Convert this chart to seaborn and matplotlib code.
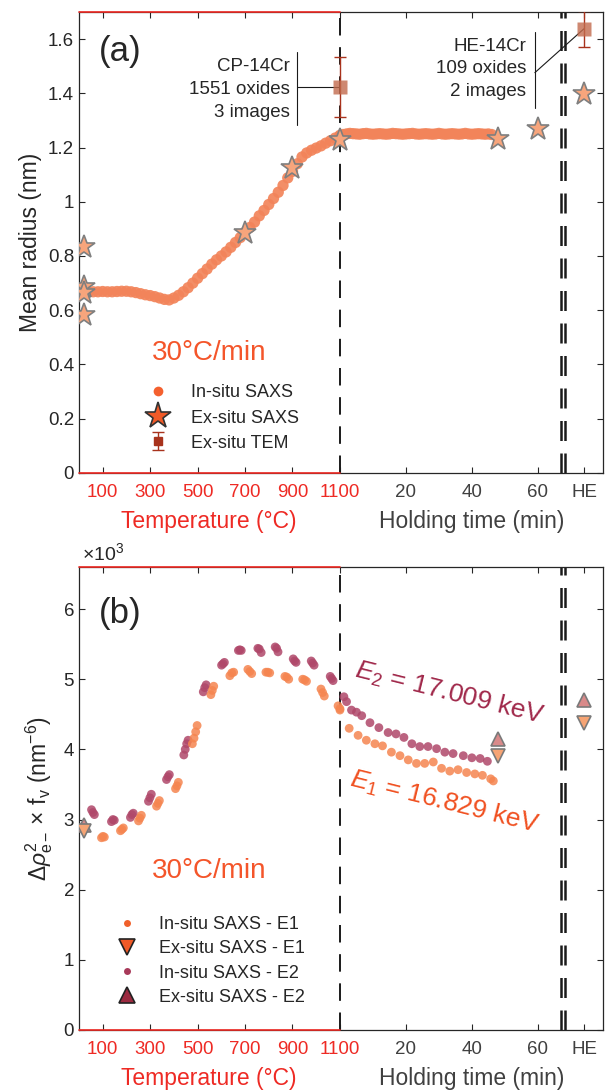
import numpy as np
import pandas as pd
import seaborn as sns
import matplotlib.pyplot as plt
from matplotlib.lines import Line2D
from matplotlib.ticker import FuncFormatter

# ---------------- (a) mean radius ----------------
heat_temp = [20, 40, 60, 80, 100, 120, 140, 160, 180, 200, 220, 240, 260, 280, 300, 320, 340, 360,
             380, 400, 420, 440, 460, 480, 500, 520, 540, 560, 580, 600, 620, 640, 660, 680, 700,
             720, 740, 760, 780, 800, 820, 840, 860, 880, 900, 920, 940, 960, 980, 1000, 1020, 1040,
             1060, 1080, 1100]
heat_radius = [0.665, 0.667, 0.668, 0.668, 0.669, 0.668, 0.668, 0.669, 0.670, 0.670,
               0.668, 0.665, 0.661, 0.657, 0.654, 0.650, 0.645, 0.640, 0.638, 0.645,
               0.655, 0.668, 0.683, 0.700, 0.718, 0.735, 0.752, 0.770, 0.786, 0.800,
               0.815, 0.832, 0.850, 0.868, 0.888, 0.905, 0.925, 0.948, 0.968, 0.990,
               1.012, 1.035, 1.060, 1.088, 1.112, 1.140, 1.165, 1.180, 1.190, 1.198,
               1.206, 1.216, 1.225, 1.235, 1.242]
hold_time = [0, 1, 2, 3, 4, 5, 6, 7, 8, 9, 10, 11, 12, 13, 14, 15, 16, 17, 18, 19, 20, 21, 22, 23,
             24, 25, 26, 27, 28, 29, 30, 31, 32, 33, 34, 35, 36, 37, 38, 39, 40, 41, 42, 43, 44, 45, 46]
hold_radius = [1.245, 1.248, 1.250, 1.252, 1.251, 1.250, 1.249, 1.251, 1.252, 1.250,
               1.249, 1.250, 1.251, 1.250, 1.249, 1.250, 1.252, 1.251, 1.250, 1.249,
               1.250, 1.251, 1.252, 1.250, 1.249, 1.250, 1.251, 1.250, 1.249, 1.250,
               1.252, 1.250, 1.249, 1.250, 1.251, 1.250, 1.249, 1.250, 1.252, 1.250,
               1.249, 1.250, 1.251, 1.250, 1.249, 1.250, 1.248]

star_temp = [20, 20, 20, 20, 700, 900, 1100]
star_temp_r = [0.834, 0.686, 0.664, 0.583, 0.886, 1.125, 1.229]
star_hold = [48, 60]
star_hold_r = [1.23, 1.27]
star_he_r = [1.398]

tem_cp_r, tem_cp_err = 1.424, 0.11
tem_he_r, tem_he_err = 1.638, 0.066

# ---------------- (b) contrast x volume fraction (x10^3) ----------------
e1_heat_temp = [95, 101, 107, 175, 181, 187, 251, 257, 263, 327, 333, 339, 407, 413, 419,
                478, 485, 492, 498, 556, 562, 568, 636, 644, 652, 712, 720, 728, 788, 796, 804,
                868, 876, 884, 943, 951, 959, 1020, 1027, 1034, 1092, 1100]
e1_heat_val = [2.74, 2.76, 2.75, 2.84, 2.86, 2.88, 2.98, 3.02, 3.06, 3.19, 3.23, 3.27, 3.44, 3.48, 3.53,
               4.08, 4.16, 4.25, 4.34, 4.78, 4.84, 4.90, 5.05, 5.09, 5.10, 5.14, 5.11, 5.08, 5.10, 5.10, 5.09,
               5.04, 5.03, 5.00, 5.00, 4.99, 4.97, 4.86, 4.81, 4.76, 4.62, 4.56]
e2_heat_temp = [53, 59, 65, 137, 143, 149, 217, 223, 229, 293, 299, 305, 369, 375, 381,
                442, 448, 454, 460, 524, 530, 536, 601, 607, 613, 672, 678, 684, 754, 760, 768,
                827, 833, 839, 903, 909, 915, 979, 985, 991, 1059, 1065, 1071]
e2_heat_val = [3.14, 3.10, 3.07, 2.97, 3.00, 2.99, 3.03, 3.07, 3.09, 3.26, 3.31, 3.36, 3.57, 3.61, 3.64,
               3.92, 4.00, 4.08, 4.13, 4.82, 4.88, 4.92, 5.20, 5.22, 5.24, 5.41, 5.42, 5.41, 5.44, 5.43, 5.38,
               5.46, 5.44, 5.39, 5.29, 5.26, 5.24, 5.26, 5.23, 5.20, 5.04, 5.01, 4.98]
e1_hold_time = [0, 2.8, 5.5, 8.0, 10.6, 12.9, 15.6, 18.2, 20.7, 23.2, 25.7, 28.3, 30.8, 33.3, 35.8,
                38.4, 40.9, 43.2, 45.7, 46.5]
e1_hold_val = [4.58, 4.30, 4.20, 4.13, 4.08, 4.05, 3.96, 3.91, 3.85, 3.80, 3.80, 3.82, 3.73, 3.69, 3.71,
               3.67, 3.65, 3.63, 3.58, 3.55]
e2_hold_time = [1.2, 2.0, 3.5, 5.0, 6.6, 9.1, 11.8, 14.6, 17.0, 19.4, 21.8, 24.2, 26.7, 29.3, 31.8,
                34.3, 37.4, 40.0, 42.5, 44.7]
e2_hold_val = [4.75, 4.68, 4.56, 4.53, 4.48, 4.38, 4.31, 4.24, 4.22, 4.17, 4.08, 4.04, 4.04, 4.01, 3.96,
               3.94, 3.91, 3.88, 3.87, 3.83]

tri_temp = [20]
tri_hold = [48]
tri_e1 = [2.84, 3.91, 4.37]   # room temp, 48 min, HE
tri_e2 = [2.92, 4.15, 4.71]

temp_ticks = [100, 300, 500, 700, 900, 1100]
time_ticks = [20, 40, 60]

# shared x axis: temperature in degC, then holding time squeezed after 1100
HOLD_SCALE = 13.9
HE_T = 74
BREAK_T = [67.0, 68.2]
T_END = 79.7


def hold_x(t):
    return 1100 + np.asarray(t, dtype=float) * HOLD_SCALE


RED = '#ee2a24'
GREY = '#404040'
INK = '#262626'
ORANGE = '#f4552a'

sns.set_theme(style='ticks')
plt.rcParams['font.family'] = ['Liberation Sans', 'DejaVu Sans']
plt.rcParams['mathtext.fontset'] = 'custom'
plt.rcParams['mathtext.rm'] = 'Liberation Sans'
plt.rcParams['mathtext.it'] = 'Liberation Sans:italic'
plt.rcParams['mathtext.bf'] = 'Liberation Sans:bold'

fig = plt.figure(figsize=(6.12, 10.92), dpi=100)
ax1 = fig.add_axes([0.129, 0.5669, 0.856, 0.4222])
ax2 = fig.add_axes([0.129, 0.0568, 0.856, 0.424])


def style_axis(ax, ylim, yticks):
    ax.set_xlim(0, float(hold_x(T_END)))
    ax.set_ylim(*ylim)
    ax.set_yticks(yticks)
    ax.yaxis.set_major_formatter(FuncFormatter(lambda v, p: f'{v:g}'))
    xt = temp_ticks + list(hold_x(time_ticks + [HE_T]))
    ax.set_xticks(xt)
    ax.set_xticklabels([str(t) for t in temp_ticks] + [str(t) for t in time_ticks] + ['HE'])
    ax.tick_params(direction='in', length=4, width=0.8, top=True, right=True,
                   labelsize=13.5, colors=INK)
    ax.tick_params(axis='x', pad=8)
    for s in ax.spines.values():
        s.set_color(INK)
        s.set_linewidth(0.9)
    for i, tk in enumerate(ax.xaxis.get_major_ticks()):
        c = RED if i < len(temp_ticks) else GREY
        tk.tick1line.set_color(c)
        tk.tick2line.set_color(c)
        tk.label1.set_color(c)
    # red part of the frame for the temperature ramp
    for yy in (0, 1):
        ax.plot([0, 1100], [yy, yy], color=RED, lw=1.2, transform=ax.get_xaxis_transform(),
                clip_on=False, zorder=5)
    ax.axvline(1100, color='k', lw=1.4, ls=(0, (9, 6)), zorder=1)
    for bt in BREAK_T:
        ax.axvline(float(hold_x(bt)), color='k', lw=1.8, ls=(0, (8, 5)), zorder=1)
    ax.annotate('Temperature (°C)', xy=(547, 0), xycoords=('data', 'axes fraction'),
                xytext=(0, -35), textcoords='offset points', ha='center', va='center',
                fontsize=16.5, color=RED)
    ax.annotate('Holding time (min)', xy=(1656, 0), xycoords=('data', 'axes fraction'),
                xytext=(0, -35), textcoords='offset points', ha='center', va='center',
                fontsize=16.5, color=GREY)


# ---------------- panel (a) ----------------
df_a = pd.DataFrame({'x': np.concatenate([heat_temp, hold_x(hold_time)]),
                     'radius': heat_radius + hold_radius})
sns.scatterplot(data=df_a, x='x', y='radius', ax=ax1, color='#f2845a', alpha=0.92,
                s=66, edgecolor='none', legend=False, zorder=2)
star_kw = dict(marker='*', ls='none', ms=17, mfc='#f7a57c', mec='#7f7f7f', mew=1.2, zorder=4)
ax1.plot(star_temp, star_temp_r, **star_kw)
ax1.plot(hold_x(star_hold), star_hold_r, **star_kw)
ax1.plot(hold_x([HE_T]), star_he_r, **star_kw)
tem_kw = dict(fmt='s', ms=10, mfc=(0.76, 0.42, 0.30, 0.8), mec='none', ecolor='#a8321c',
              elinewidth=1.0, capsize=4, capthick=1.0, zorder=4)
ax1.errorbar([1100], [tem_cp_r], yerr=[tem_cp_err], **tem_kw)
ax1.errorbar(hold_x([HE_T]), [tem_he_r], yerr=[tem_he_err], **tem_kw)

# callouts
ax1.plot([918, 918], [1.284, 1.552], color='k', lw=0.8)
ax1.plot([918, 1100], [tem_cp_r, tem_cp_r], color='k', lw=0.8)
ax1.text(888, 1.413, 'CP-14Cr\n1551 oxides\n3 images', ha='right', va='center',
         fontsize=13.5, linespacing=1.45, color=INK)
xh = float(hold_x(59.1))
ax1.plot([xh, xh], [1.347, 1.627], color='k', lw=0.8)
ax1.plot([xh, float(hold_x(HE_T))], [1.476, tem_he_r], color='k', lw=0.8)
ax1.text(float(hold_x(56.4)), 1.49, 'HE-14Cr\n109 oxides\n2 images', ha='right', va='center',
         fontsize=13.5, linespacing=1.45, color=INK)

style_axis(ax1, (0, 1.7), [0, 0.2, 0.4, 0.6, 0.8, 1.0, 1.2, 1.4, 1.6])
ax1.set_xlabel('')
ax1.set_ylabel('Mean radius (nm)', fontsize=16.5, color=INK, labelpad=4)
ax1.text(0.078, 0.915, '(a)', transform=ax1.transAxes, fontsize=25, ha='center', va='center', color=INK)
ax1.text(547, 0.443, '30°C/min', fontsize=20, ha='center', va='center', color=ORANGE)

h_tem = ax1.errorbar([np.nan], [np.nan], yerr=[0.05], fmt='s', ms=6, color='#a8321c',
                     capsize=4, elinewidth=1.0, label='Ex-situ TEM')
handles_a = [Line2D([], [], marker='o', ls='none', ms=7, mfc='#f4602e', mec='none', label='In-situ SAXS'),
             Line2D([], [], marker='*', ls='none', ms=20, mfc='#f05a28', mec='#333333', mew=1.2,
                    label='Ex-situ SAXS'),
             h_tem]
ax1.legend(handles=handles_a, loc='upper left', bbox_to_anchor=(0.117, 0.192), frameon=False,
           fontsize=13, handlelength=2.0, handletextpad=0.8, labelspacing=0.45,
           borderpad=0, borderaxespad=0)

# ---------------- panel (b) ----------------
df_b = pd.DataFrame({
    'x': np.concatenate([e2_heat_temp, hold_x(e2_hold_time), e1_heat_temp, hold_x(e1_hold_time)]),
    'value': e2_heat_val + e2_hold_val + e1_heat_val + e1_hold_val,
    'energy': ['E2'] * (len(e2_heat_val) + len(e2_hold_val)) + ['E1'] * (len(e1_heat_val) + len(e1_hold_val)),
})
sns.scatterplot(data=df_b, x='x', y='value', hue='energy', palette={'E1': '#f58550', 'E2': '#b0486a'},
                ax=ax2, s=40, alpha=0.85, edgecolor='none', legend=False, zorder=2)
tri_x = tri_temp + list(hold_x(tri_hold)) + list(hold_x([HE_T]))
ax2.plot(tri_x, tri_e2, marker='^', ls='none', ms=10, mfc='#d98a8a', mec='#7a7a7a', mew=1.2, zorder=4)
ax2.plot(tri_x, tri_e1, marker='v', ls='none', ms=10, mfc='#f6a474', mec='#7a7a7a', mew=1.2, zorder=4)

style_axis(ax2, (0, 6.6), [0, 1, 2, 3, 4, 5, 6])
ax2.set_xlabel('')
ax2.set_ylabel(r'$\Delta\rho^{2}_{\mathrm{e-}}\times\,\mathrm{f_v}$ (nm$^{-6}$)', fontsize=16.5,
               color=INK, labelpad=6)
ax2.text(0.006, 1.03, r'$\times$10$^3$', transform=ax2.transAxes, fontsize=14, ha='left',
         va='center', color=INK)
ax2.text(0.078, 0.90, '(b)', transform=ax2.transAxes, fontsize=25, ha='center', va='center', color=INK)
ax2.text(547, 2.26, '30°C/min', fontsize=20, ha='center', va='center', color=ORANGE)
ax2.text(1563, 4.80, r'$E_2$ = 17.009 keV', fontsize=19, rotation=-14, ha='center', va='center',
         color='#a0284a', rotation_mode='anchor')
ax2.text(1542, 3.25, r'$E_1$ = 16.829 keV', fontsize=19, rotation=-14, ha='center', va='center',
         color='#f05020', rotation_mode='anchor')

handles_b = [Line2D([], [], marker='o', ls='none', ms=5, mfc='#f0602a', mec='none', label='In-situ SAXS - E1'),
             Line2D([], [], marker='v', ls='none', ms=11, mfc='#f05a28', mec='#222222', mew=1.2,
                    label='Ex-situ SAXS - E1'),
             Line2D([], [], marker='o', ls='none', ms=5, mfc='#a83a5a', mec='none', label='In-situ SAXS - E2'),
             Line2D([], [], marker='^', ls='none', ms=11, mfc='#9c2a40', mec='#222222', mew=1.2,
                    label='Ex-situ SAXS - E2')]
ax2.legend(handles=handles_b, loc='upper left', bbox_to_anchor=(0.057, 0.246), frameon=False,
           fontsize=13, handlelength=2.0, handletextpad=0.8, labelspacing=0.4,
           borderpad=0, borderaxespad=0)

fig.savefig('out.png', dpi=100)
